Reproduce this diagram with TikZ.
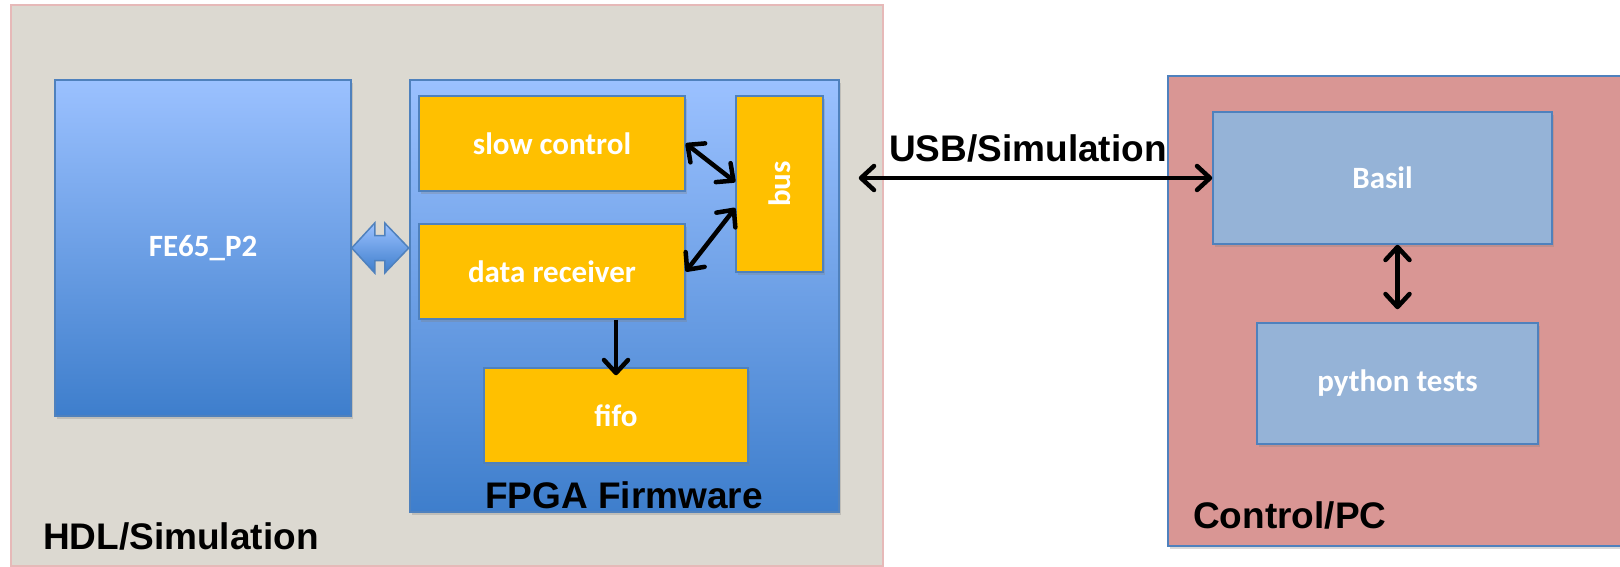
\documentclass[tikz,border=0pt]{standalone}
\usepackage{fontspec}
\setmainfont{Liberation Sans}
\newfontfamily\boxfont{Carlito}
\usepackage{xcolor}
\usepackage{tikz}
\usetikzlibrary{calc,arrows.meta,shadows}
\definecolor{hdlgray}{HTML}{DCD9D1}
\definecolor{hdlline}{HTML}{E6B9B8}
\definecolor{blueline}{HTML}{4F81BD}
\definecolor{bluetop}{HTML}{9BC1FF}
\definecolor{bluebot}{HTML}{3E7ECC}
\definecolor{amber}{HTML}{FFC000}
\definecolor{pcred}{HTML}{D99694}
\definecolor{basilblue}{HTML}{95B3D7}

\begin{document}
\begin{tikzpicture}[x=1pt,y=-1pt,
    shadowed/.style={drop shadow={shadow xshift=2pt,shadow yshift=-3pt,opacity=0.3}},
    hwblock/.style={shadowed,draw=blueline,line width=1.5pt,top color=bluetop,bottom color=bluebot,inner sep=0pt},
    unit/.style={shadowed,draw=blueline,line width=1.5pt,fill=amber,inner sep=0pt},
    swblock/.style={shadowed,draw=blueline,line width=1.5pt,fill=basilblue,inner sep=0pt},
    boxtext/.style={text=white,font=\boxfont\bfseries\fontsize{31}{36}\selectfont},
    biglabel/.style={text=black,font=\bfseries\fontsize{37}{44}\selectfont,inner sep=0pt},
    barb/.tip={Straight Barb[round,length=13pt,width=24pt]},
    link/.style={line width=4.5pt,barb-barb},
  ]
    \useasboundingbox (0,0) rectangle (1620,567);

    % simulation side
    \node[draw=hdlline,line width=2pt,fill=hdlgray,minimum width=872,minimum height=561] (hdl) at (447,285.5) {};
    \node[hwblock,boxtext,minimum width=296,minimum height=336] (fe) at (203,248) {FE65\_P2};
    \node[hwblock,minimum width=429,minimum height=432] (fpga) at (624.5,296) {};
    \node[unit,boxtext,minimum width=266,minimum height=95] (sc) at (552,143.5) {slow control};
    \node[unit,boxtext,minimum width=266,minimum height=95] (rx) at (552,271.5) {data receiver};
    \node[unit,minimum width=87,minimum height=176] (bus) at (779.5,184) {};
    \node[boxtext,rotate=90] (buslabel) at (bus.center) {bus};
    \node[unit,boxtext,minimum width=264,minimum height=95] (fifo) at (616,415.5) {fifo};
    \node[biglabel,anchor=base] (fpgalabel) at (624,508) {FPGA Firmware};
    \node[biglabel,anchor=base west] (hdllabel) at (43,549) {HDL/Simulation};

    % fat arrow between chip and firmware
    \shade[top color=bluetop,bottom color=bluebot,draw=blueline,line width=1.5pt]
      (fe.east) -- ++(23,-25) -- ++(0,12.5) -- ++(10,0) -- ++(0,-12.5) -- ++(24,25)
      -- ++(-24,25) -- ++(0,-12.5) -- ++(-10,0) -- ++(0,12.5) -- cycle;

    % control side
    \node[shadowed,draw=blueline,line width=2pt,fill=pcred,minimum width=457,minimum height=470] (pc) at (1396.5,311) {};
    \node[swblock,boxtext,minimum width=339,minimum height=132] (basil) at (1382.5,178) {Basil};
    \node[swblock,boxtext,minimum width=281,minimum height=121] (py) at (1397.5,383.5) {python tests};
    \node[biglabel,anchor=base west] (pclabel) at (1193,528) {Control/PC};

    % connections
    \draw[link] (sc.east) -- ($(bus.west)+(0,-2)$);
    \draw[link] ($(bus.west)+(0,24)$) -- (rx.east);
    \draw[line width=4.5pt,-barb,shorten >=-8pt] (fifo.north |- rx.south) -- (fifo.north);
    \draw[link,shorten <=19pt] (fpga.east |- basil.west) -- (basil.west);
    \node[biglabel,anchor=base west] (usb) at (889,161) {USB/Simulation};
    \draw[link,shorten >=13pt] (py.north |- basil.south) -- (py.north);
\end{tikzpicture}
\end{document}
